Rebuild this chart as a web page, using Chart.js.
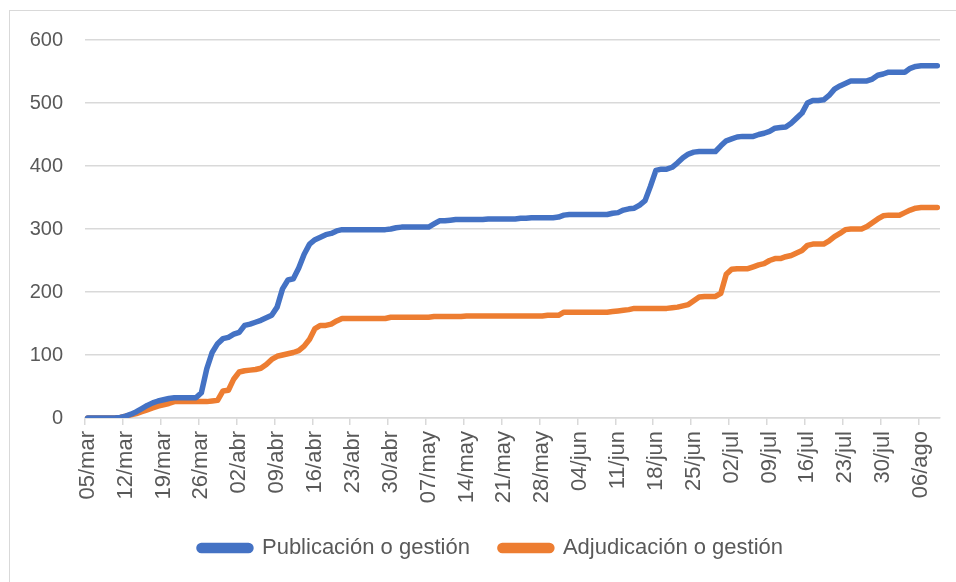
<!DOCTYPE html>
<html>
<head>
<meta charset="utf-8">
<script src="https://cdn.jsdelivr.net/npm/chart.js@4.4.1/dist/chart.umd.min.js"></script>
<style>
  html, body { margin: 0; padding: 0; background: #fff; }
  #wrap { position: relative; width: 956px; height: 582px; overflow: hidden; }
  #frame { position: absolute; left: 9px; top: 10px; width: 960px; height: 590px;
           border: 1px solid #d9d9d9; box-sizing: border-box; }
  canvas { position: absolute; left: 0; top: 0; }
</style>
</head>
<body>
<div id="wrap">
  <div id="frame"></div>
  <canvas id="chart" width="956" height="582"></canvas>
</div>
<script>
// daily categories, 05/mar .. 09/ago
const months = ["mar", "abr", "may", "jun", "jul", "ago"];
const monthDays = [31, 30, 31, 30, 31, 31];
const firstDay = 5;
const dayCount = 158;

// one row per week (7 days)
const publicacion = [
  0, 0, 0, 0, 0, 0, 1,
  3, 6, 10, 15, 20, 24, 27,
  29, 31, 32, 32, 32, 32, 32,
  40, 78, 104, 118, 126, 128, 133,
  136, 147, 149, 152, 155, 159, 163,
  176, 205, 219, 221, 238, 260, 276,
  283, 287, 291, 293, 297, 299, 299,
  299, 299, 299, 299, 299, 299, 299,
  300, 302, 303, 303, 303, 303, 303,
  303, 308, 313, 313, 314, 315, 315,
  315, 315, 315, 315, 316, 316, 316,
  316, 316, 316, 317, 317, 318, 318,
  318, 318, 318, 319, 322, 323, 323,
  323, 323, 323, 323, 323, 323, 325,
  326, 330, 332, 333, 338, 345, 368,
  393, 395, 395, 398, 405, 413, 419,
  422, 423, 423, 423, 423, 432, 440,
  443, 446, 447, 447, 447, 450, 452,
  455, 460, 461, 462, 468, 476, 484,
  500, 504, 504, 505, 512, 522, 527,
  531, 535, 535, 535, 535, 538, 544,
  546, 549, 549, 549, 549, 555, 558,
  559, 559, 559, 559
];

const adjudicacion = [
  0, 0, 0, 0, 0, 0, 1,
  3, 5, 7, 10, 13, 16, 19,
  21, 23, 26, 26, 26, 26, 26,
  26, 26, 27, 28, 43, 44, 62,
  73, 75, 76, 77, 79, 85, 93,
  98, 100, 102, 104, 107, 114, 125,
  142, 147, 147, 149, 154, 158, 158,
  158, 158, 158, 158, 158, 158, 158,
  160, 160, 160, 160, 160, 160, 160,
  160, 161, 161, 161, 161, 161, 161,
  162, 162, 162, 162, 162, 162, 162,
  162, 162, 162, 162, 162, 162, 162,
  162, 163, 163, 163, 168, 168, 168,
  168, 168, 168, 168, 168, 168, 169,
  170, 171, 172, 174, 174, 174, 174,
  174, 174, 174, 175, 176, 178, 180,
  186, 192, 193, 193, 193, 198, 228,
  236, 237, 237, 237, 240, 243, 245,
  250, 253, 253, 256, 258, 262, 266,
  274, 276, 276, 276, 281, 288, 293,
  299, 300, 300, 300, 304, 310, 316,
  321, 322, 322, 322, 326, 330, 333,
  334, 334, 334, 334
];

const labels = [];
let m = 0, d = firstDay;
for (let i = 0; i < dayCount; i++) {
  labels.push(String(d).padStart(2, "0") + "/" + months[m]);
  d++;
  if (d > monthDays[m]) { d = 1; m++; }
}

const BLUE = "#4472C4";
const ORANGE = "#ED7D31";
const GRID = "#d9d9d9";
const TEXT = "#595959";
const FONT = "'Liberation Sans', Arial, sans-serif";

// legend in the reference sits a bit right of centre
const legendShift = {
  id: "legendShift",
  afterLayout(chart) {
    chart.legend.left += 21;
    chart.legend.right += 21;
  }
};

new Chart(document.getElementById("chart").getContext("2d"), {
  type: "line",
  data: {
    labels: labels,
    datasets: [
      { label: "Publicación o gestión", data: publicacion,
        borderColor: BLUE, backgroundColor: BLUE },
      { label: "Adjudicación o gestión", data: adjudicacion,
        borderColor: ORANGE, backgroundColor: ORANGE }
    ]
  },
  plugins: [legendShift],
  options: {
    responsive: false,
    animation: false,
    layout: { padding: { top: 40, right: 16, bottom: 13, left: 0 } },
    elements: {
      line: { borderWidth: 5.5, tension: 0, borderCapStyle: "round", borderJoinStyle: "round" },
      point: { radius: 0 }
    },
    scales: {
      x: {
        offset: true,
        grid: {
          offset: true,
          drawOnChartArea: false,
          drawTicks: true,
          tickLength: 7,
          color: (ctx) => (ctx.index % 7 === 0 ? GRID : "rgba(0,0,0,0)"),
          lineWidth: 1.5
        },
        border: { display: true, color: GRID, width: 1.5 },
        ticks: {
          autoSkip: false,
          maxRotation: 90,
          minRotation: 90,
          padding: 6,
          color: TEXT,
          font: { family: FONT, size: 22 },
          callback: function (val, idx) { return idx % 7 === 0 ? labels[idx] : ""; }
        },
        afterFit: (scale) => {
          scale.height = 89;
          scale.paddingLeft = 0;
          scale.paddingRight = 0;
        }
      },
      y: {
        min: 0,
        max: 600,
        ticks: { stepSize: 100, padding: 22, color: TEXT, font: { family: FONT, size: 20 } },
        grid: { color: GRID, lineWidth: 1.5, drawTicks: false },
        border: { display: false },
        afterFit: (scale) => { scale.width = 85; }
      }
    },
    plugins: {
      tooltip: { enabled: false },
      legend: {
        position: "bottom",
        labels: {
          boxWidth: 52,
          boxHeight: 5,
          padding: 30,
          color: TEXT,
          useBorderRadius: true,
          borderRadius: 2.5,
          font: { family: FONT, size: 22 }
        }
      }
    }
  }
});
</script>
</body>
</html>
